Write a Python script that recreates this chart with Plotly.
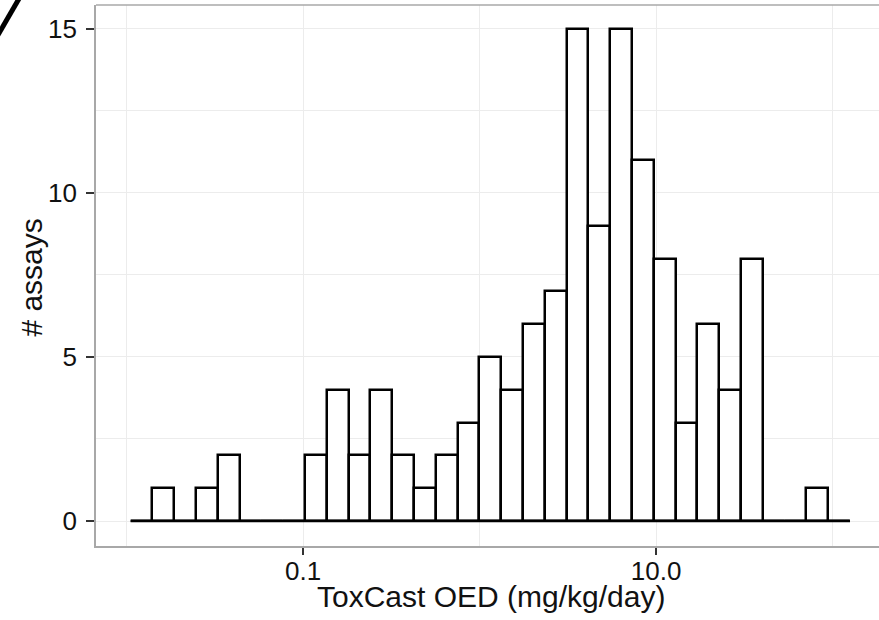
import plotly.graph_objects as go

# Histogram bins: centres in log10(ToxCast OED, mg/kg/day), bin width in log10 units
bin_centers_log10 = [-1.915, -1.792, -1.668, -1.545, -1.421, -1.298, -1.174, -1.051,
                     -0.927, -0.804, -0.680, -0.557, -0.433, -0.310, -0.186, -0.063,
                     0.061, 0.184, 0.308, 0.431, 0.555, 0.678, 0.802, 0.925,
                     1.049, 1.172, 1.296, 1.419, 1.543, 1.666, 1.790, 1.913, 2.037]
bin_width_log10 = 0.1235
counts = [0, 1, 0, 1, 2, 0, 0, 0,
          2, 4, 2, 4, 2, 1, 2, 3,
          5, 4, 6, 7, 15, 9, 15, 11,
          8, 3, 6, 4, 8, 0, 0, 1, 0]

x_tick_vals = [-1, 1]
x_tick_text = ["0.1", "10.0"]
x_minor_vals = [-2, 0, 2]
y_tick_vals = [0, 5, 10, 15]
y_minor_vals = [2.5, 7.5, 12.5]

x_title = "ToxCast OED (mg/kg/day)"
y_title = "# assays"

FONT = "Liberation Sans, Arial, Helvetica, sans-serif"
GRID = "#ececec"
BORDER = "#a8a8a8"

fig = go.Figure()

# zero-count bins appear as a baseline in the original
edge_lo = bin_centers_log10[0] - bin_width_log10 / 2
edge_hi = bin_centers_log10[-1] + bin_width_log10 / 2
fig.add_trace(go.Scatter(x=[edge_lo, edge_hi], y=[0, 0], mode="lines",
                         line=dict(color="black", width=2.5), hoverinfo="skip",
                         showlegend=False))

fig.add_trace(go.Bar(
    x=bin_centers_log10, y=counts, width=bin_width_log10,
    marker=dict(color="white", line=dict(color="black", width=2.5)),
    showlegend=False,
))

fig.update_layout(
    width=879, height=620,
    margin=dict(l=96, r=0, t=5, b=74),
    paper_bgcolor="white", plot_bgcolor="white",
    font=dict(family=FONT, color="#111111"),
    bargap=0,
    xaxis=dict(
        range=[-2.1728, 2.263], automargin=False,
        tickmode="array", tickvals=x_tick_vals, ticktext=x_tick_text,
        ticks="outside", ticklen=7, tickwidth=1.6, tickcolor="#333333",
        ticklabelstandoff=-6,
        tickfont=dict(size=26, family=FONT, color="#111111"),
        showgrid=True, gridcolor=GRID, gridwidth=1.3,
        minor=dict(tickvals=x_minor_vals, showgrid=True, gridcolor=GRID, gridwidth=1, ticklen=0),
        zeroline=False,
        showline=True, linecolor=BORDER, linewidth=1.6,
    ),
    yaxis=dict(
        range=[-0.762, 15.73], automargin=False,
        tickmode="array", tickvals=y_tick_vals,
        ticks="outside", ticklen=8, tickwidth=1.6, tickcolor="#333333",
        ticklabelstandoff=4,
        tickfont=dict(size=26, family=FONT, color="#111111"),
        showgrid=True, gridcolor=GRID, gridwidth=1.3,
        minor=dict(tickvals=y_minor_vals, showgrid=True, gridcolor=GRID, gridwidth=1, ticklen=0),
        zeroline=False,
        showline=True, linecolor=BORDER, linewidth=1.6,
    ),
    annotations=[
        dict(text=x_title, xref="paper", yref="paper", x=0.505, y=-0.0935,
             xanchor="center", yanchor="middle", showarrow=False,
             font=dict(size=30, family=FONT, color="#111111")),
        dict(text=y_title, xref="paper", yref="paper", x=-0.0824, y=0.497,
             xanchor="center", yanchor="middle", showarrow=False, textangle=-90,
             font=dict(size=30, family=FONT, color="#111111")),
    ],
    shapes=[
        # top panel border
        dict(type="line", xref="paper", yref="paper", x0=0, x1=1.0, y0=1, y1=1,
             line=dict(color=BORDER, width=1.6)),
        # stray diagonal stroke in the top-left corner of the original image
        dict(type="line", xref="paper", yref="paper",
             x0=-0.1252, y0=0.9445, x1=-0.0971, y1=1.0148,
             line=dict(color="black", width=5)),
    ],
)

fig.write_html("out.html", config={"displayModeBar": False},
               post_script="document.body.style.margin='0';document.body.style.overflow='hidden';")
